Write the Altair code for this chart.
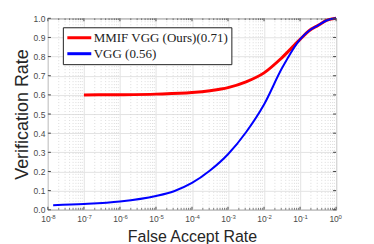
import altair as alt
import pandas as pd

# ---- data ----
series_names = ["MMIF VGG (Ours)(0.71)", "VGG (0.56)"]
series_colors = ["#ff0000", "#0000ff"]

far_mmif = [1e-7, 1e-6, 1e-5, 1e-4, 10**-3.5, 1e-3, 10**-2.5, 1e-2, 10**-1.5, 1e-1, 10**-0.75, 10**-0.5, 10**-0.25, 1.0]
tar_mmif = [0.600, 0.601, 0.604, 0.612, 0.622, 0.638, 0.668, 0.715, 0.795, 0.89, 0.935, 0.963, 0.99, 1.0]

far_vgg = [1.4e-8, 1e-7, 1e-6, 1e-5, 10**-4.5, 1e-4, 10**-3.5, 1e-3, 10**-2.5, 1e-2, 10**-1.5, 1e-1, 10**-0.75, 10**-0.5, 10**-0.25, 1.0]
tar_vgg = [0.024, 0.030, 0.043, 0.072, 0.097, 0.14, 0.205, 0.29, 0.405, 0.55, 0.74, 0.89, 0.935, 0.963, 0.99, 1.0]

x_ticks = [1e-8, 1e-7, 1e-6, 1e-5, 1e-4, 1e-3, 1e-2, 1e-1, 1.0]
x_tick_exponents = ["-8", "-7", "-6", "-5", "-4", "-3", "-2", "-1", "0"]
y_ticks = [0, 0.1, 0.2, 0.3, 0.4, 0.5, 0.6, 0.7, 0.8, 0.9, 1.0]
minor_x = [m * 10.0**k for k in range(-8, 0) for m in range(2, 10)]

W, H = 289, 192

df = pd.concat([
    pd.DataFrame({"far": far_mmif, "tar": tar_mmif, "series": series_names[0], "w": 3.0}),
    pd.DataFrame({"far": far_vgg, "tar": tar_vgg, "series": series_names[1], "w": 2.0}),
])

xs = alt.Scale(type="log", domain=[1e-8, 1], nice=False)
ys = alt.Scale(domain=[0, 1], nice=False, zero=False)

minor_df = pd.DataFrame({"v": minor_x})
major_x_df = pd.DataFrame({"v": x_ticks, "e": x_tick_exponents})
major_y_df = pd.DataFrame({"v": y_ticks})

x_axis = alt.Axis(values=x_ticks, labelExpr="'10'", grid=True, gridColor="#e3e3e3",
                  ticks=False, domain=False, labelFontSize=8.5, labelColor="#4a4a4a",
                  labelFont="Liberation Sans", labelPadding=5, labelOffset=-2.5,
                  titleFont="Liberation Sans", titleFontSize=16, titleFontWeight="normal",
                  titleColor="#262626", titlePadding=5, labelFlush=False)
y_axis = alt.Axis(values=y_ticks, grid=True, gridColor="#e3e3e3", ticks=False, domain=False,
                  labelFontSize=8.5, labelColor="#4a4a4a", labelFont="Liberation Sans",
                  labelPadding=3, titleFont="Liberation Sans", titleFontSize=18,
                  titleFontWeight="normal", titleColor="#262626", titlePadding=2,
                  labelFlush=False)

X_TITLE = "False Accept Rate"
Y_TITLE = "Verification Rate"

minor_grid = alt.Chart(minor_df).mark_rule(color="#d4d4d4", strokeDash=[1, 2], strokeWidth=0.8).encode(
    x=alt.X("v:Q", scale=xs, title=X_TITLE, axis=x_axis)
)

lines = alt.Chart(df).mark_line(interpolate="monotone").encode(
    x=alt.X("far:Q", scale=xs, title=X_TITLE, axis=x_axis),
    y=alt.Y("tar:Q", scale=ys, title=Y_TITLE, axis=y_axis),
    color=alt.Color("series:N", scale=alt.Scale(domain=series_names, range=series_colors),
                    legend=alt.Legend(title=None, orient="none", legendX=15, legendY=9,
                                      fillColor="white", strokeColor="#222222",
                                      padding=3,
                                      labelFont="Liberation Serif", labelFontSize=13,
                                      labelColor="#222222", symbolType="M-1,0H3", symbolSize=144,
                                      symbolStrokeWidth=3, rowPadding=1, labelOffset=13)),
    strokeWidth=alt.StrokeWidth("w:Q", scale=None, legend=None),
    order=alt.Order("far:Q"),
)

exponents = alt.Chart(major_x_df).mark_text(
    align="left", baseline="alphabetic", fontSize=6, font="Liberation Sans", color="#4a4a4a", dx=2.5
).encode(
    x=alt.X("v:Q", scale=xs, title=X_TITLE, axis=x_axis),
    y=alt.value(H + 9.5),
    text="e:N",
)

tick_color = "#444444"
bottom_major = alt.Chart(major_x_df).mark_rule(color=tick_color).encode(
    x=alt.X("v:Q", scale=xs, title=X_TITLE, axis=x_axis), y=alt.value(H), y2=alt.value(H - 3))
top_major = alt.Chart(major_x_df).mark_rule(color=tick_color).encode(
    x=alt.X("v:Q", scale=xs, title=X_TITLE, axis=x_axis), y=alt.value(0), y2=alt.value(3))
bottom_minor = alt.Chart(minor_df).mark_rule(color=tick_color, strokeWidth=0.7).encode(
    x=alt.X("v:Q", scale=xs, title=X_TITLE, axis=x_axis), y=alt.value(H), y2=alt.value(H - 1.8))
top_minor = alt.Chart(minor_df).mark_rule(color=tick_color, strokeWidth=0.7).encode(
    x=alt.X("v:Q", scale=xs, title=X_TITLE, axis=x_axis), y=alt.value(0), y2=alt.value(1.8))
left_major = alt.Chart(major_y_df).mark_rule(color=tick_color).encode(
    y=alt.Y("v:Q", scale=ys, title=Y_TITLE, axis=y_axis), x=alt.value(0), x2=alt.value(3))
right_major = alt.Chart(major_y_df).mark_rule(color=tick_color).encode(
    y=alt.Y("v:Q", scale=ys, title=Y_TITLE, axis=y_axis), x=alt.value(W), x2=alt.value(W - 3))

chart = alt.layer(
    minor_grid, lines, exponents, bottom_major, top_major, bottom_minor, top_minor, left_major, right_major
).properties(
    width=W, height=H,
    autosize=alt.AutoSizeParams(type="none"),
    padding={"left": 40, "top": 10, "right": 30, "bottom": 34},
).configure_view(stroke="#444444", strokeWidth=1)

chart.save("out.html", embed_options={"renderer": "svg", "actions": False})
